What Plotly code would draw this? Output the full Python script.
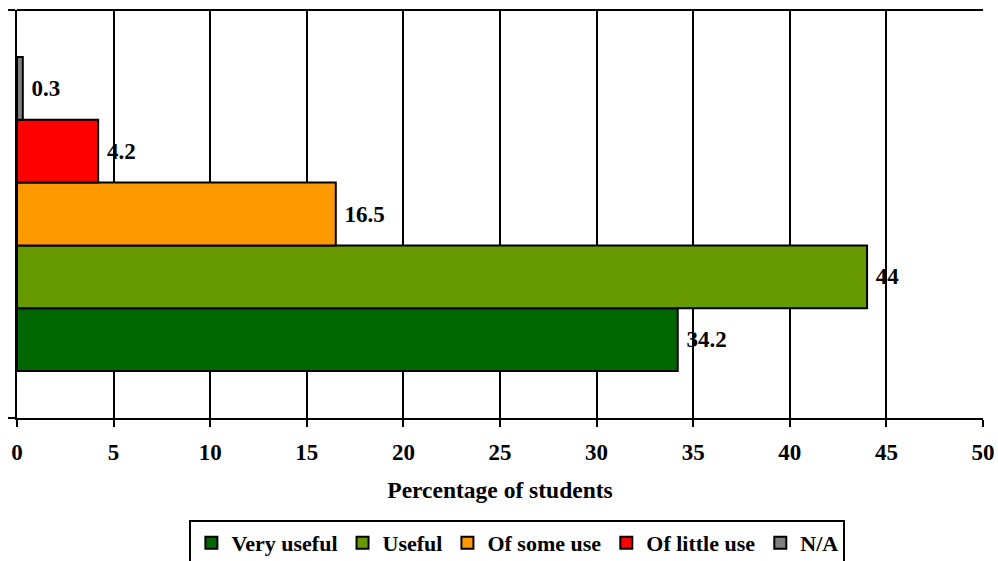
import plotly.graph_objects as go

# Survey responses: how useful students found the resource
categories = ["Very useful", "Useful", "Of some use", "Of little use", "N/A"]
percentages = [34.2, 44, 16.5, 4.2, 0.3]
colors = ["#006600", "#669900", "#FF9900", "#FF0000", "#808080"]
x_ticks = [0, 5, 10, 15, 20, 25, 30, 35, 40, 45, 50]
group = [""]

FONT = "Liberation Serif"


def bold(size):
    return dict(family=FONT, size=size, color="black", weight="bold")


fig = go.Figure()
for name, val, col in zip(categories, percentages, colors):
    fig.add_trace(go.Bar(
        name=name,
        x=[val],
        y=group,
        orientation="h",
        marker=dict(color=col, line=dict(color="black", width=2)),
        text=[" " + f"{val:g}"],
        textposition="outside",
        textfont=bold(23),
        cliponaxis=False,
    ))

fig.update_layout(
    width=998,
    height=561,
    margin=dict(l=17, r=15, t=10, b=143, autoexpand=False),
    paper_bgcolor="white",
    plot_bgcolor="white",
    barmode="group",
    bargap=0.23,
    bargroupgap=0,
    font=bold(23),
    xaxis=dict(
        range=[0, 50],
        tickvals=x_ticks,
        showgrid=True,
        gridcolor="black",
        gridwidth=2,
        showline=True,
        linecolor="black",
        linewidth=2,
        ticks="outside",
        ticklen=7,
        tickwidth=2,
        tickcolor="black",
        tickfont=bold(23),
        ticklabelstandoff=5,
        zeroline=False,
        automargin=False,
        title=dict(text="Percentage of students", font=bold(23.5), standoff=18),
    ),
    yaxis=dict(
        type="category",
        range=[-0.5, 0.5],
        showticklabels=False,
        showgrid=False,
        showline=True,
        linecolor="black",
        linewidth=2,
        ticks="outside",
        tickson="boundaries",
        ticklen=7,
        tickwidth=2,
        tickcolor="black",
        zeroline=False,
        automargin=False,
    ),
    legend=dict(
        orientation="h",
        x=0.518,
        xanchor="center",
        y=-0.25,
        yanchor="top",
        bordercolor="black",
        borderwidth=2,
        bgcolor="white",
        font=bold(22),
        traceorder="normal",
        itemclick=False,
    ),
    showlegend=True,
)

# Top border of the plot area
fig.add_shape(type="line", xref="paper", yref="paper",
              x0=0, x1=1, y0=1, y1=1,
              line=dict(color="black", width=2))

fig.write_html("out.html")
